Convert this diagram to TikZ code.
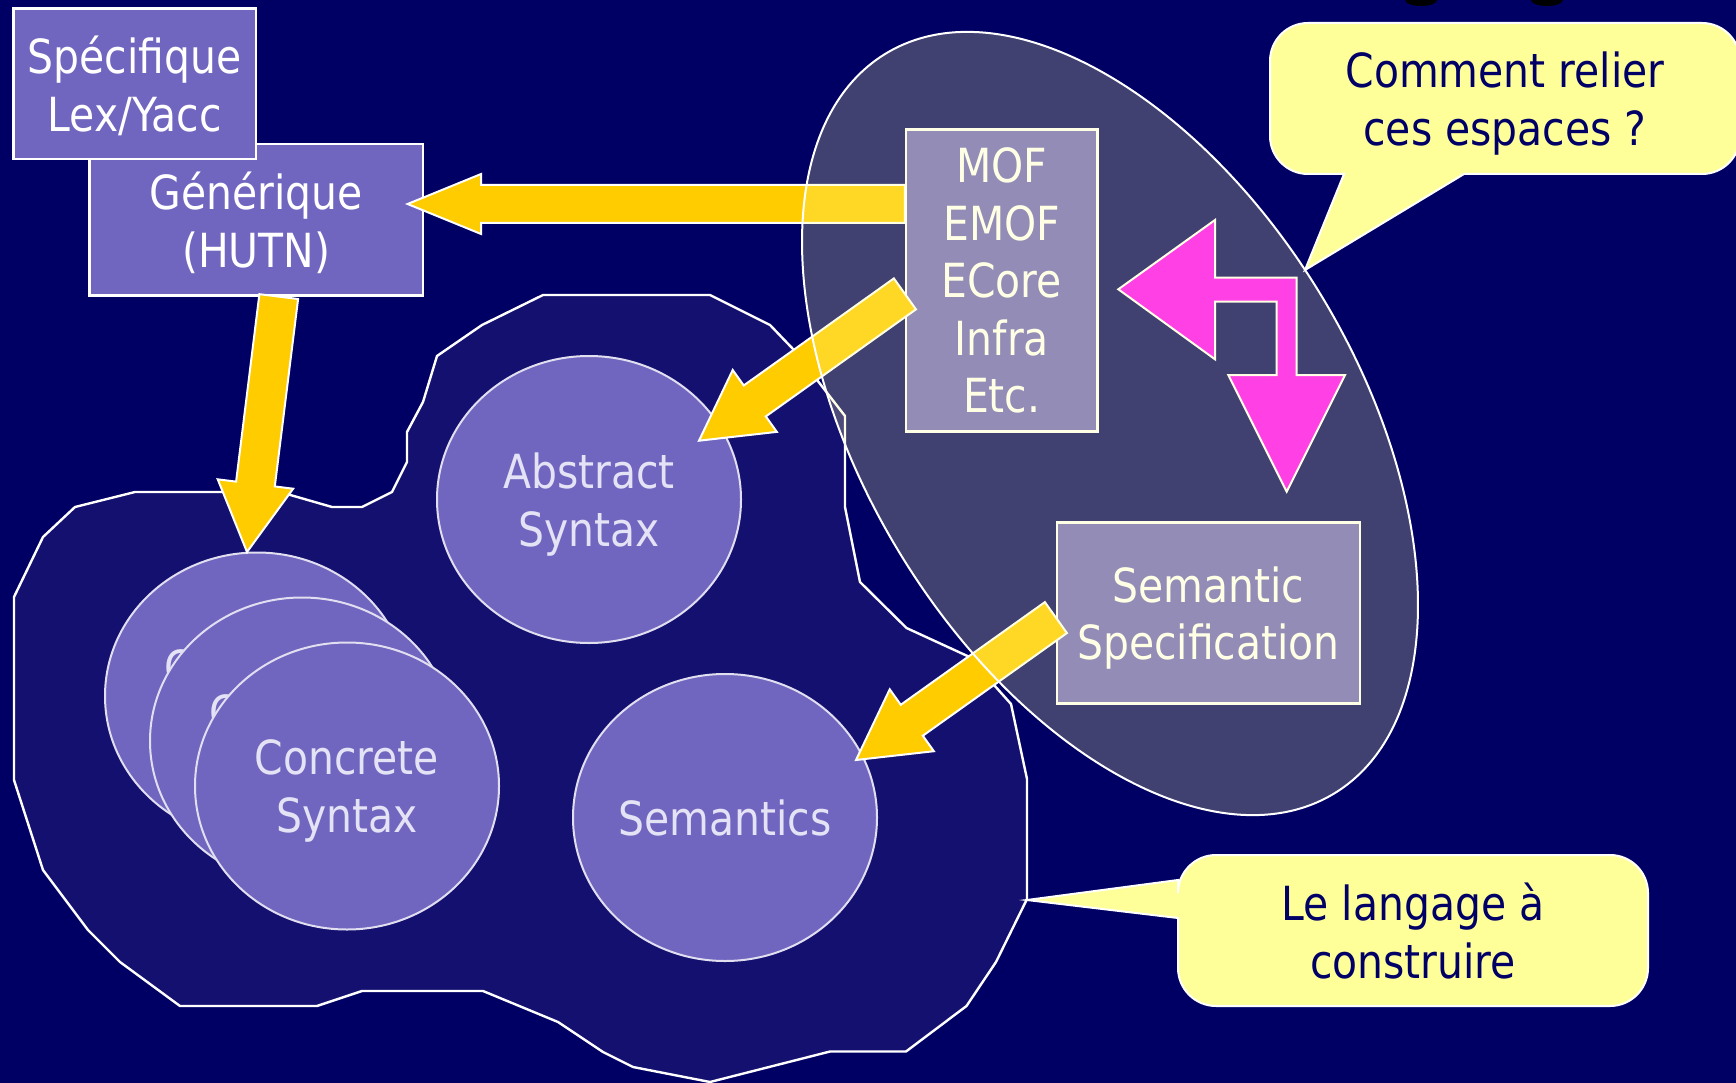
\documentclass[tikz,border=0pt]{standalone}
\usepackage{fontspec}
\setmainfont{DejaVu Sans}[FakeStretch=0.87]
\usetikzlibrary{calc,shapes.geometric}

\definecolor{slidebg}{RGB}{0,0,100}
\definecolor{regionfill}{RGB}{20,16,112}
\definecolor{boxfill}{RGB}{112,102,192}
\definecolor{arrowyellow}{RGB}{255,204,0}
\definecolor{arrowmagenta}{RGB}{255,0,255}
\definecolor{noteyellow}{RGB}{255,255,153}
\definecolor{notetext}{RGB}{0,0,102}
\definecolor{circletext}{RGB}{228,226,245}
\definecolor{circleedge}{RGB}{225,222,240}

\tikzset{
  bigtext/.style={font=\fontsize{47}{57.5}\selectfont, text depth=0pt},
  box/.style={draw=white, line width=2.2pt, fill=boxfill, text=white,
    bigtext, align=center, inner sep=0pt},
  bubble/.style={ellipse, draw=circleedge, line width=2pt, fill=boxfill,
    text=circletext, minimum width=304pt, minimum height=287pt,
    inner sep=0pt, bigtext, align=center},
  region/.style={draw=white, line width=2.4pt, fill=regionfill, line join=miter},
  yarrow/.style={fill=arrowyellow, draw=white, line width=2pt, line join=miter},
  magarrow/.style={fill=arrowmagenta, draw=white, line width=2pt, line join=miter},
  metaspace/.style={fill=noteyellow, fill opacity=0.25, draw=white, line width=2pt},
  note/.style={fill=noteyellow, draw=white, line width=2pt, line join=miter},
  notelabel/.style={text=notetext, bigtext, align=center, inner sep=0pt},
}

% block arrow: #2 start, #3 tip, #4 half shaft width, #5 half head width, #6 head length
\newcommand\blockarrow[6][]{%
  \coordinate (ba-base) at ($(#3)!#6!(#2)$);
  \draw[#1] ($(#2)!#4!90:(#3)$) -- ($(ba-base)!#4!90:(#3)$)
    -- ($(ba-base)!#5!90:(#3)$) -- (#3)
    -- ($(ba-base)!#5!-90:(#3)$) -- ($(ba-base)!#4!-90:(#3)$)
    -- ($(#2)!#4!-90:(#3)$) -- cycle;
}

\begin{document}
\begin{tikzpicture}[x=1pt,y=-1pt]
\useasboundingbox (0,0) rectangle (1736,1083);
\clip (0,0) rectangle (1736,1083);
\fill[slidebg] (0,0) rectangle (1736,1083);

% descenders of the title line above the frame
\fill[black] (1421,0) ellipse [x radius=16pt, y radius=6pt];
\fill[black] (1547,0) ellipse [x radius=16pt, y radius=6pt];

% the language to be built
\draw[region] (14,597) -- (43,537) -- (75,507) -- (135,492) -- (280,492)
  -- (332,507) -- (362,507) -- (392,492) -- (407,462) -- (407,432)
  -- (423,402) -- (437,356) -- (482,325) -- (543,295) -- (710,295)
  -- (770,325) -- (793,349) -- (845,416) -- (845,507) -- (860,582)
  -- (906.5,628) -- (968.5,656.5) -- (1011,704) -- (1027,779) -- (1027,899)
  -- (996,962) -- (966.5,1006) -- (906,1051.5) -- (830,1051.5) -- (710,1082)
  -- (633,1067) -- (603,1052) -- (558,1022) -- (483,991) -- (362,991)
  -- (317,1006) -- (180,1006) -- (120,962) -- (88,930) -- (43,870)
  -- (14,780) -- cycle;

% the parts of a language
\node[bubble] (cs1) at (257,696) {Concrete\\Syntax};
\node[bubble] (cs2) at (302,741) {Concrete\\Syntax};
\node[bubble] (cs3) at (347,786) {Concrete\\Syntax};
\node[bubble] (abs) at (589,499.5) {Abstract\\Syntax};
\node[bubble] (sem) at (725,817.5) {Semantics};

% notations and meta-levels
\node[box, minimum width=333.5pt, minimum height=151.5pt] (gen) at (256.25,219.75) {Générique\\(HUTN)};
\node[box, minimum width=242.5pt, minimum height=150.5pt] (spec) at (134.75,83.75) {Spécifique\\Lex/Yacc};
\node[box, minimum width=191.5pt, minimum height=302pt] (mof) at (1001.75,280.5) {MOF\\EMOF\\ECore\\Infra\\Etc.};
\node[box, minimum width=303pt, minimum height=181pt] (semspec) at (1208.5,613) {Semantic\\Specification};

% yellow block arrows
\coordinate (genIn) at (407.6,204);
\coordinate (a1s) at (mof.west |- genIn);
\blockarrow[yarrow]{a1s}{genIn}{19pt}{30pt}{73.5pt}

\coordinate (a2s) at ($(gen.south west)!0.567!(gen.south east)$);
\coordinate (csIn) at (247,552);
\blockarrow[yarrow]{a2s}{csIn}{19.5pt}{38pt}{68.5pt}

\coordinate (a3s) at ($(mof.north west)!0.544!(mof.south west)$);
\coordinate (absIn) at (699,440.7);
\blockarrow[yarrow]{a3s}{absIn}{19pt}{38pt}{68.5pt}

\coordinate (a4s) at ($(semspec.north west)!0.525!(semspec.south west)$);
\coordinate (semIn) at (856,760);
\blockarrow[yarrow]{a4s}{semIn}{19pt}{38pt}{68.5pt}

% bent double arrow between the two spaces
\draw[magarrow] (1118.3,289.3) -- (1215,220) -- (1215,277.7) -- (1296.7,277.7)
  -- (1296.7,375) -- (1345,375) -- (1286.7,491.7) -- (1228.3,375)
  -- (1276.7,375) -- (1276.7,301.7) -- (1215,301.7) -- (1215,359.3) -- cycle;

% translucent meta-modelling space
\draw[metaspace, rotate around={-58.8:(1110,423.5)}] (1110,423.5)
  ellipse [x radius=432.6pt, y radius=247pt];

% callouts
\coordinate (qTip) at (1305,270);
\draw[note] (1464,174) [rounded corners=38pt] -- (1740,174) -- (1740,23)
  -- (1270,23) -- (1270,174) [sharp corners] -- (1344,174) -- (qTip) -- cycle;
\node[notelabel] (q) at (1505,98.5) {Comment relier\\ces espaces ?};

\coordinate (langTip) at (1027,900);
\draw[note] (1178,918) [rounded corners=38pt] -- (1178,1006) -- (1648,1006)
  -- (1648,855) -- (1178,855) [sharp corners] -- (1178,880) -- (langTip) -- cycle;
\node[notelabel] (lang) at (1413,930.5) {Le langage à\\construire};
\end{tikzpicture}
\end{document}
